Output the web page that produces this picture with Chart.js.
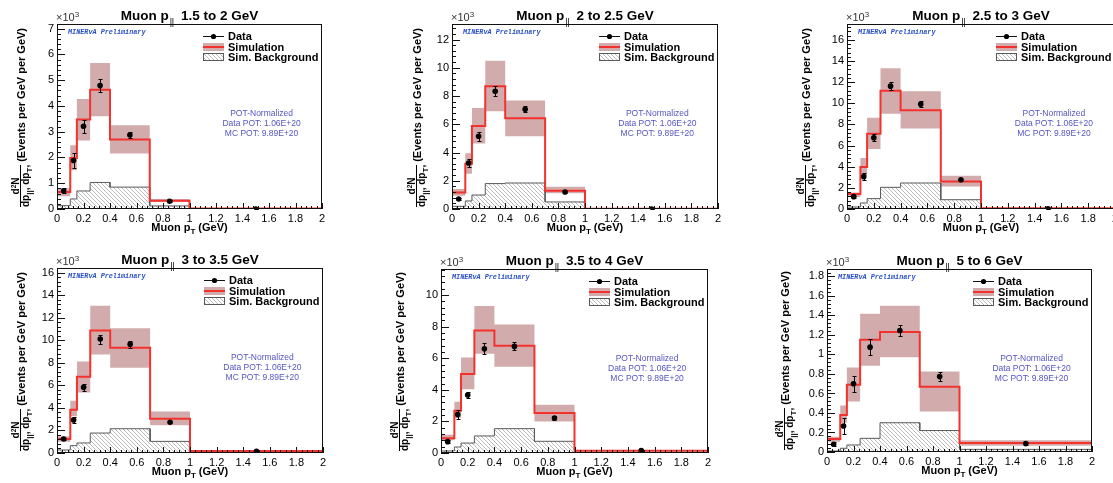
<!DOCTYPE html>
<html>
<head>
<meta charset="utf-8">
<script src="https://cdn.jsdelivr.net/npm/chart.js@4.4.1/dist/chart.umd.min.js"></script>
<style>
  html, body { margin: 0; padding: 0; background: #fff; }
  body { width: 1113px; height: 483px; position: relative; overflow: hidden;
         font-family: "Liberation Sans", Arial, sans-serif; color: #000; }
  canvas { position: absolute; }
  .abs { position: absolute; white-space: nowrap; }
  .title { font-weight: bold; font-size: 13.5px; line-height: 16px; text-align: center; }
  .par { position: relative; top: 5px; font-size: 9px; font-weight: normal; letter-spacing: -0.3px; margin: 0 7px 0 1px; }
  .xtitle { font-weight: bold; font-size: 11px; line-height: 13px; text-align: center; }
  .xtitle sub, .den sub { font-size: 8px; line-height: 0; vertical-align: -3px; }
  .mult { font-size: 11px; line-height: 12px; color: #333; }
  .mult sup { font-size: 8px; line-height: 0; vertical-align: 4px; }
  .prelim { font-family: "Liberation Mono", monospace; font-weight: bold; font-style: italic;
            font-size: 6.8px; line-height: 8px; color: rgb(40, 80, 200); }
  .leg { font-weight: bold; font-size: 11px; line-height: 13px; }
  .pot { font-size: 8.5px; line-height: 10px; text-align: center; color: rgb(85, 85, 195); transform: translateX(-50%); }
  .ytitle { display: flex; align-items: center; height: 18px; transform: rotate(-90deg); transform-origin: 0 0; font-weight: bold; }
  .frac { display: inline-flex; flex-direction: column; align-items: center; font-size: 10px; line-height: 8.5px; }
  .num sup { font-size: 6.5px; line-height: 0; vertical-align: 3px; }
  .den { border-top: 1px solid #000; padding-top: 1px; }
  .ev { font-size: 11px; margin-left: 3px; }
</style>
</head>
<body>
<script>
// shared binning of muon pT (GeV)
const binEdges = [0, 0.1, 0.15, 0.25, 0.4, 0.7, 1.0, 2.0];
const dataX = [0.05, 0.125, 0.2, 0.325, 0.55, 0.85, 1.5];
const xTicks = [0, 0.2, 0.4, 0.6, 0.8, 1, 1.2, 1.4, 1.6, 1.8, 2];
const titleRanges = ["1.5 to 2 GeV", "2 to 2.5 GeV", "2.5 to 3 GeV", "3 to 3.5 GeV", "3.5 to 4 GeV", "5 to 6 GeV"];
const yMaxes = [7.18, 13.1, 17.5, 16.4, 11.65, 1.876];

// values in units of 10^3 events per GeV per GeV
// Muon p|| 1.5 to 2 GeV
const p1Sim = [0.66, 1.98, 3.47, 4.63, 2.70, 0.32, 0.02];
const p1BandHi = [0.81, 2.47, 4.27, 5.67, 3.25, 0.39, 0.03];
const p1BandLo = [0.49, 1.50, 2.66, 3.60, 2.15, 0.27, 0.01];
const p1Data = [0.71, 1.88, 3.21, 4.79, 2.87, 0.30, 0.00];
const p1Err = [0.10, 0.28, 0.25, 0.25, 0.12, 0.03, 0.005];
const p1Bkg = [0.13, 0.39, 0.70, 1.03, 0.85, 0.12, 0.005];
const p1YTicks = [0, 1, 2, 3, 4, 5, 6, 7];

// Muon p|| 2 to 2.5 GeV
const p2Sim = [1.16, 3.21, 5.88, 8.69, 6.43, 1.30, 0.02];
const p2BandHi = [1.42, 3.95, 7.16, 10.49, 7.68, 1.58, 0.03];
const p2BandLo = [0.94, 2.50, 4.63, 6.92, 5.15, 1.11, 0.01];
const p2Data = [0.71, 3.26, 5.15, 8.34, 7.06, 1.20, 0.00];
const p2Err = [0.08, 0.30, 0.30, 0.35, 0.20, 0.05, 0.01];
const p2Bkg = [0.19, 0.57, 0.99, 1.80, 1.84, 0.50, 0.005];
const p2YTicks = [0, 2, 4, 6, 8, 10, 12];

// Muon p|| 2.5 to 3 GeV
const p3Sim = [1.42, 3.97, 7.12, 11.18, 9.35, 2.61, 0.06];
const p3BandHi = [1.57, 4.82, 8.63, 13.32, 11.15, 3.15, 0.08];
const p3BandLo = [1.13, 3.15, 5.67, 9.00, 7.62, 2.14, 0.04];
const p3Data = [1.17, 3.06, 6.74, 11.62, 9.92, 2.77, 0.03];
const p3Err = [0.10, 0.30, 0.35, 0.40, 0.30, 0.10, 0.01];
const p3Bkg = [0.19, 0.57, 0.98, 2.05, 2.46, 0.88, 0.01];
const p3YTicks = [0, 2, 4, 6, 8, 10, 12, 14, 16];

// Muon p|| 3 to 3.5 GeV
const p4Sim = [1.24, 3.84, 6.76, 10.86, 9.33, 3.04, 0.18];
const p4BandHi = [1.48, 4.63, 8.12, 13.05, 11.07, 3.69, 0.24];
const p4BandLo = [1.00, 3.25, 5.37, 8.74, 7.56, 2.45, 0.12];
const p4Data = [1.24, 2.92, 5.82, 10.10, 9.65, 2.72, 0.15];
const p4Err = [0.12, 0.30, 0.30, 0.40, 0.30, 0.10, 0.02];
const p4Bkg = [0.27, 0.65, 0.89, 1.77, 2.15, 1.03, 0.03];
const p4YTicks = [0, 2, 4, 6, 8, 10, 12, 14, 16];

// Muon p|| 3.5 to 4 GeV
const p5Sim = [0.93, 2.68, 5.00, 7.76, 6.79, 2.53, 0.15];
const p5BandHi = [1.16, 3.25, 6.05, 9.30, 8.14, 3.06, 0.19];
const p5BandLo = [0.80, 2.22, 4.03, 6.29, 5.46, 2.00, 0.10];
const p5Data = [0.72, 2.43, 3.67, 6.60, 6.75, 2.22, 0.15];
const p5Err = [0.10, 0.30, 0.20, 0.35, 0.25, 0.10, 0.02];
const p5Bkg = [0.13, 0.38, 0.63, 1.08, 1.54, 0.74, 0.02];
const p5YTicks = [0, 2, 4, 6, 8, 10];

// Muon p|| 5 to 6 GeV
const p6Sim = [0.133, 0.38, 0.69, 1.15, 1.23, 0.67, 0.092];
const p6BandHi = [0.157, 0.476, 0.866, 1.417, 1.499, 0.825, 0.12];
const p6BandLo = [0.106, 0.30, 0.517, 0.883, 0.972, 0.414, 0.065];
const p6Data = [0.079, 0.267, 0.70, 1.075, 1.246, 0.773, 0.086];
const p6Err = [0.02, 0.08, 0.08, 0.08, 0.06, 0.05, 0.01];
const p6Bkg = [0.01, 0.038, 0.072, 0.14, 0.30, 0.22, 0.027];
const p6YTicks = [0, 0.2, 0.4, 0.6, 0.8, 1, 1.2, 1.4, 1.6, 1.8];

const panels = [
  { sim: p1Sim, hi: p1BandHi, lo: p1BandLo, data: p1Data, err: p1Err, bkg: p1Bkg, yTicks: p1YTicks },
  { sim: p2Sim, hi: p2BandHi, lo: p2BandLo, data: p2Data, err: p2Err, bkg: p2Bkg, yTicks: p2YTicks },
  { sim: p3Sim, hi: p3BandHi, lo: p3BandLo, data: p3Data, err: p3Err, bkg: p3Bkg, yTicks: p3YTicks },
  { sim: p4Sim, hi: p4BandHi, lo: p4BandLo, data: p4Data, err: p4Err, bkg: p4Bkg, yTicks: p4YTicks },
  { sim: p5Sim, hi: p5BandHi, lo: p5BandLo, data: p5Data, err: p5Err, bkg: p5Bkg, yTicks: p5YTicks },
  { sim: p6Sim, hi: p6BandHi, lo: p6BandLo, data: p6Data, err: p6Err, bkg: p6Bkg, yTicks: p6YTicks },
];

// plot frame of each panel on the page (pixels)
const frames = [
  { left: 57, top: 24, right: 322, bottom: 209, yTitleX: 20.5 },
  { left: 452, top: 24, right: 718, bottom: 209, yTitleX: 416.5 },
  { left: 847, top: 24, right: 1115, bottom: 209, yTitleX: 805.5 },
  { left: 57, top: 268, right: 323, bottom: 453, yTitleX: 20.5 },
  { left: 441, top: 269, right: 708, bottom: 453, yTitleX: 399.5 },
  { left: 827, top: 269, right: 1092, bottom: 452, yTitleX: 784.5 },
];

const FONT = "'Liberation Sans', Arial, sans-serif";
const SIM_RED = "rgb(243, 50, 45)";
const BAND = "rgb(210, 172, 172)";
const BKG_LINE = "#5a5a5a";
const AXIS_W = 45, AXIS_H = 24, PAD_T = 10, PAD_R = 10;

const makeHatch = () => {
  const c = document.createElement("canvas");
  c.width = 4; c.height = 4;
  const g = c.getContext("2d");
  g.strokeStyle = "#a4a4a4";
  g.lineWidth = 0.75;
  g.beginPath();
  g.moveTo(-1, -1); g.lineTo(5, 5);
  g.moveTo(3, -1); g.lineTo(5, 1);
  g.moveTo(-1, 3); g.lineTo(1, 5);
  g.stroke();
  return g.createPattern(c, "repeat");
};
const hatch = makeHatch();

// histogram outline: each bin value is held flat from its low edge to its high edge
const stepPoints = (vals, fromZero) => {
  const pts = fromZero ? [{ x: binEdges[0], y: 0 }] : [];
  vals.forEach((v, i) => {
    pts.push({ x: binEdges[i], y: v });
    pts.push({ x: binEdges[i + 1], y: v });
  });
  return pts;
};

const fmt = (v) => String(Math.round(v * 100) / 100);

// frame, inward ticks, error bars and legend symbols, ROOT style
const makeDecor = (p, yMax) => ({
  id: "rootDecor",
  afterDatasetsDraw(chart) {
    const { ctx, chartArea: a, scales: { x, y } } = chart;
    ctx.save();

    // data error bars
    ctx.strokeStyle = "#000";
    ctx.lineWidth = 1;
    dataX.forEach((xv, k) => {
      const px = Math.round(x.getPixelForValue(xv)) + 0.5;
      const y1 = Math.round(y.getPixelForValue(p.data[k] + p.err[k])) + 0.5;
      const y2 = Math.round(y.getPixelForValue(Math.max(0, p.data[k] - p.err[k]))) + 0.5;
      ctx.beginPath();
      ctx.moveTo(px, y1); ctx.lineTo(px, y2);
      ctx.moveTo(px - 2, y1); ctx.lineTo(px + 2, y1);
      ctx.moveTo(px - 2, y2); ctx.lineTo(px + 2, y2);
      ctx.stroke();
    });

    // frame
    ctx.strokeStyle = "#111";
    ctx.strokeRect(a.left + 0.5, a.top + 0.5, a.width - 1, a.height - 1);

    // ticks inside the frame
    ctx.beginPath();
    for (let k = 0; k <= 50; k++) {
      const px = Math.round(x.getPixelForValue(k * 0.04)) + 0.5;
      const len = k % 5 === 0 ? 6 : 3;
      ctx.moveTo(px, a.bottom); ctx.lineTo(px, a.bottom - len);
    }
    const minor = p.yTicks[1] / 5;
    for (let k = 0; k * minor <= yMax + 1e-9; k++) {
      const py = Math.round(y.getPixelForValue(k * minor)) + 0.5;
      const len = k % 5 === 0 ? 8 : 4;
      ctx.moveTo(a.left, py); ctx.lineTo(a.left + len, py);
    }
    ctx.stroke();

    // legend symbols
    const R = a.right, T = a.top;
    ctx.beginPath();
    ctx.moveTo(R - 119, T + 12.5); ctx.lineTo(R - 98, T + 12.5);
    ctx.stroke();
    ctx.fillStyle = "#000";
    ctx.beginPath();
    ctx.arc(R - 108.5, T + 12.5, 2.6, 0, Math.PI * 2);
    ctx.fill();

    ctx.fillStyle = BAND;
    ctx.fillRect(R - 119, T + 19, 21, 8);
    ctx.strokeStyle = SIM_RED;
    ctx.lineWidth = 2;
    ctx.beginPath();
    ctx.moveTo(R - 119, T + 23); ctx.lineTo(R - 98, T + 23);
    ctx.stroke();

    ctx.fillStyle = hatch;
    ctx.fillRect(R - 119, T + 29, 21, 8);
    ctx.strokeStyle = BKG_LINE;
    ctx.lineWidth = 1;
    ctx.strokeRect(R - 118.5, T + 29.5, 20, 7);

    ctx.restore();
  },
});

const addText = (cls, html, style) => {
  const d = document.createElement("div");
  d.className = "abs " + cls;
  d.innerHTML = html;
  Object.assign(d.style, style);
  document.body.appendChild(d);
  return d;
};

panels.forEach((p, i) => {
  const f = frames[i];
  const w = f.right - f.left, h = f.bottom - f.top;
  const yMax = yMaxes[i];

  const cv = document.createElement("canvas");
  cv.width = w + AXIS_W + PAD_R;
  cv.height = h + PAD_T + AXIS_H;
  cv.style.left = f.left - AXIS_W + "px";
  cv.style.top = f.top - PAD_T + "px";
  cv.style.width = cv.width + "px";
  cv.style.height = cv.height + "px";
  document.body.appendChild(cv);

  new Chart(cv, {
    type: "line",
    data: {
      datasets: [
        {
          label: "Data",
          data: dataX.map((xv, k) => ({ x: xv, y: p.data[k] })),
          showLine: false,
          pointRadius: 2.8,
          pointBackgroundColor: "#000",
          pointBorderWidth: 0,
        },
        {
          label: "Simulation",
          data: stepPoints(p.sim, true),
          borderColor: SIM_RED,
          borderWidth: 2,
          pointRadius: 0,
          tension: 0,
          fill: false,
        },
        {
          label: "Sim. Background",
          data: stepPoints(p.bkg, true),
          borderColor: BKG_LINE,
          borderWidth: 1,
          pointRadius: 0,
          tension: 0,
          fill: "origin",
          backgroundColor: hatch,
        },
        {
          label: "band up",
          data: stepPoints(p.hi),
          borderColor: "transparent",
          borderWidth: 0,
          pointRadius: 0,
          tension: 0,
          fill: "+1",
          backgroundColor: BAND,
        },
        {
          label: "band down",
          data: stepPoints(p.lo),
          borderColor: "transparent",
          borderWidth: 0,
          pointRadius: 0,
          tension: 0,
          fill: false,
        },
      ],
    },
    options: {
      responsive: false,
      animation: false,
      events: [],
      layout: { padding: { left: 0, top: PAD_T, right: PAD_R, bottom: 0 } },
      plugins: { legend: { display: false }, tooltip: { enabled: false } },
      scales: {
        x: {
          type: "linear",
          min: 0,
          max: 2,
          grid: { display: false, drawTicks: false },
          border: { display: false },
          afterBuildTicks: (s) => { s.ticks = xTicks.map((v) => ({ value: v })); },
          afterFit: (s) => { s.height = AXIS_H; },
          ticks: {
            autoSkip: false, maxRotation: 0, padding: 3, color: "#000",
            font: { family: FONT, size: 11 }, callback: (v) => fmt(v),
          },
        },
        y: {
          type: "linear",
          min: 0,
          max: yMax,
          grid: { display: false, drawTicks: false },
          border: { display: false },
          afterBuildTicks: (s) => { s.ticks = p.yTicks.map((v) => ({ value: v })); },
          afterFit: (s) => { s.width = AXIS_W; },
          ticks: {
            padding: 3, color: "#000",
            font: { family: FONT, size: 11 }, callback: (v) => fmt(v),
          },
        },
      },
    },
    plugins: [makeDecor(p, yMax)],
  });

  // texts
  addText("title", 'Muon p<span class="par">||</span>' + titleRanges[i],
    { left: f.left + "px", width: w + "px", top: f.top - 16 + "px" });
  addText("mult", "&times;10<sup>3</sup>", { left: f.left - 1 + "px", top: f.top - 13 + "px" });
  addText("prelim", "MINERvA Preliminary", { left: f.left + 11 + "px", top: f.top + 4 + "px" });
  addText("leg", "Data", { left: f.right - 94 + "px", top: f.top + 6 + "px" });
  addText("leg", "Simulation", { left: f.right - 94 + "px", top: f.top + 17 + "px" });
  addText("leg", "Sim. Background", { left: f.right - 94 + "px", top: f.top + 27 + "px" });
  addText("pot", "POT-Normalized<br>Data POT: 1.06E+20<br>MC POT: 9.89E+20",
    { left: f.left + 0.772 * w + "px", top: f.top + 84 + "px" });
  addText("xtitle", "Muon p<sub>T</sub> (GeV)",
    { left: f.left + "px", width: w + "px", top: f.bottom + 12 + "px" });
  addText("ytitle",
    '<span class="frac"><span class="num">d<sup>2</sup>N</span>' +
    '<span class="den">dp<sub>||</sub>, dp<sub>T</sub>,</span></span>' +
    '<span class="ev">(Events per GeV per GeV)</span>',
    { left: f.yTitleX - 9 + "px", top: f.bottom - 2 + "px" });
});
</script>
</body>
</html>
